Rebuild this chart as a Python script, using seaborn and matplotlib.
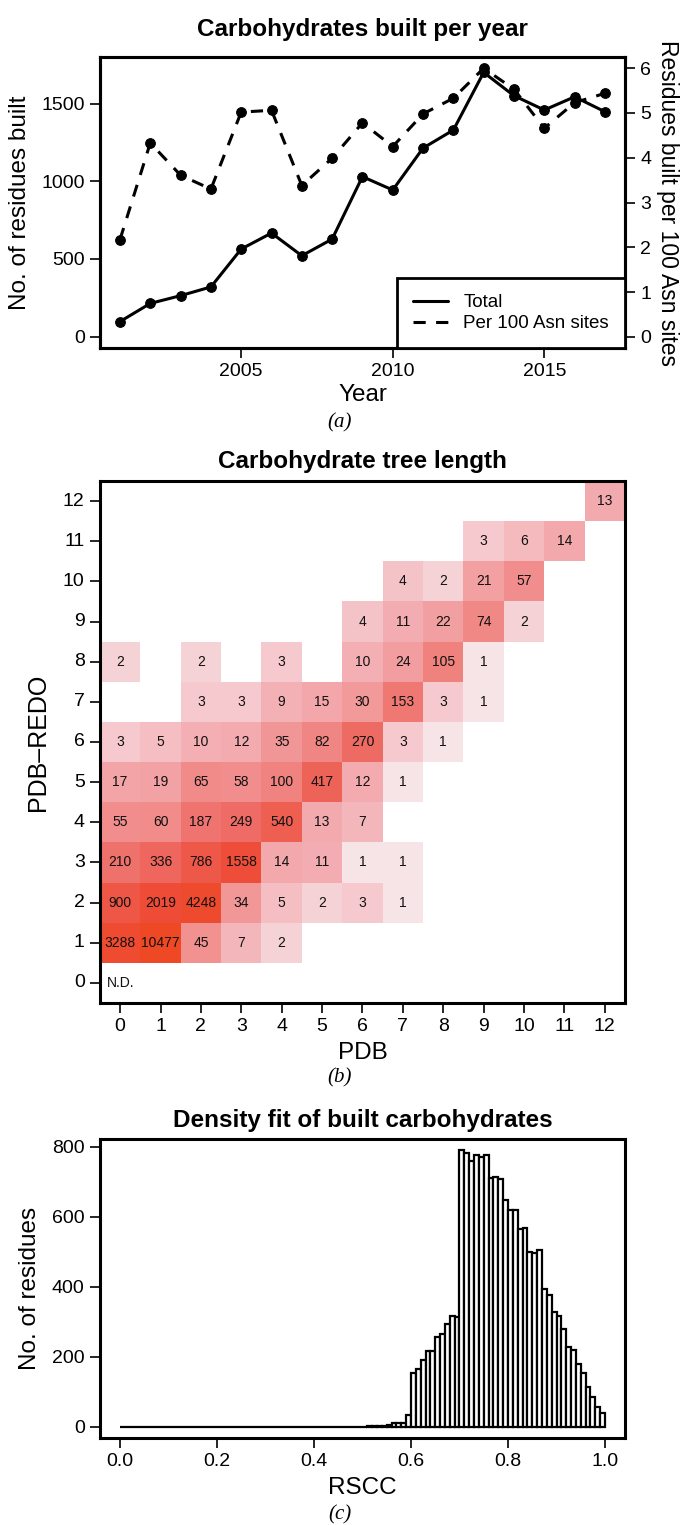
import numpy as np
import pandas as pd
import seaborn as sns
from matplotlib import pyplot as plt
from matplotlib.colors import LinearSegmentedColormap, LogNorm
from matplotlib.lines import Line2D

# (a) carbohydrates built per year
years = list(range(2001, 2018))
total_built = [97, 214, 264, 320, 564, 667, 521, 628, 1030, 944,
               1214, 1330, 1701, 1551, 1459, 1544, 1448]
per_100_asn = [2.17, 4.33, 3.61, 3.30, 5.02, 5.06, 3.38, 3.99, 4.78, 4.25,
               4.98, 5.33, 6.00, 5.53, 4.66, 5.23, 5.44]

# (b) tree length, PDB vs PDB-REDO (sparse cells)
pdb = [12,
       9, 10, 11,
       7, 8, 9, 10,
       6, 7, 8, 9, 10,
       0, 2, 4, 6, 7, 8, 9,
       2, 3, 4, 5, 6, 7, 8, 9,
       0, 1, 2, 3, 4, 5, 6, 7, 8,
       0, 1, 2, 3, 4, 5, 6, 7,
       0, 1, 2, 3, 4, 5, 6,
       0, 1, 2, 3, 4, 5, 6, 7,
       0, 1, 2, 3, 4, 5, 6, 7,
       0, 1, 2, 3, 4]
pdb_redo = [12,
            11, 11, 11,
            10, 10, 10, 10,
            9, 9, 9, 9, 9,
            8, 8, 8, 8, 8, 8, 8,
            7, 7, 7, 7, 7, 7, 7, 7,
            6, 6, 6, 6, 6, 6, 6, 6, 6,
            5, 5, 5, 5, 5, 5, 5, 5,
            4, 4, 4, 4, 4, 4, 4,
            3, 3, 3, 3, 3, 3, 3, 3,
            2, 2, 2, 2, 2, 2, 2, 2,
            1, 1, 1, 1, 1]
tree_counts = [13,
               3, 6, 14,
               4, 2, 21, 57,
               4, 11, 22, 74, 2,
               2, 2, 3, 10, 24, 105, 1,
               3, 3, 9, 15, 30, 153, 3, 1,
               3, 5, 10, 12, 35, 82, 270, 3, 1,
               17, 19, 65, 58, 100, 417, 12, 1,
               55, 60, 187, 249, 540, 13, 7,
               210, 336, 786, 1558, 14, 11, 1, 1,
               900, 2019, 4248, 34, 5, 2, 3, 1,
               3288, 10477, 45, 7, 2]
tree_levels = list(range(13))

# (c) RSCC histogram, bins of 0.01 from 0.00 to 1.00
rscc_counts = [0] * 50 + [
    1, 2, 2, 3, 3, 5, 10, 11, 10, 33,
    155, 164, 190, 217, 217, 257, 265, 295, 317, 314,
    790, 782, 760, 778, 770, 778, 712, 714, 708, 648,
    620, 620, 565, 567, 500, 497, 505, 395, 378, 328,
    318, 280, 228, 220, 180, 155, 115, 85, 58, 40]
rscc_bin_start = np.round(np.arange(100) * 0.01, 2)

sns.set_theme(style="ticks")
plt.rcParams['font.family'] = ['Liberation Sans', 'DejaVu Sans']
plt.rcParams['axes.linewidth'] = 2.2
plt.rcParams['axes.edgecolor'] = 'black'
plt.rcParams['text.color'] = 'black'
plt.rcParams['axes.labelcolor'] = 'black'
plt.rcParams['axes.titlecolor'] = 'black'

fig = plt.figure(figsize=(6.8, 15.25), dpi=100)
tick_kw = dict(length=7, width=1.2, direction='out', labelsize=14,
               colors='black', pad=4)
LAB = 17.5
TTL = 17.5

# ---------- panel a ----------
ax1 = fig.add_axes([0.147, 0.7718, 0.772, 0.1908])
sns.lineplot(x=years, y=total_built, ax=ax1, color='black', lw=2.2,
             marker='o', markersize=7, markeredgecolor='black')
ax2 = ax1.twinx()
sns.lineplot(x=years, y=per_100_asn, ax=ax2, color='black', lw=2.2,
             marker='o', markersize=7, markeredgecolor='black')
ax2.lines[0].set_dashes((4, 3.4))
ax1.set_xlim(2000.34, 2017.66)
ax1.set_ylim(-73, 1800)
ax2.set_ylim(-0.25, 6.25)
ax1.set_xticks([2005, 2010, 2015])
ax1.set_yticks([0, 500, 1000, 1500])
ax2.set_yticks(range(7))
ax1.tick_params(**tick_kw)
ax2.tick_params(**tick_kw)
ax1.set_xlabel("Year", fontsize=LAB, labelpad=3)
ax1.set_ylabel("No. of residues built", fontsize=LAB, labelpad=7)
ax2.set_ylabel("Residues built per 100 Asn sites", fontsize=16.5,
               rotation=270, labelpad=20)
ax1.set_title("Carbohydrates built per year", fontsize=TTL,
              fontweight='bold', pad=15)
handles = [Line2D([], [], color='black', lw=2.2),
           Line2D([], [], color='black', lw=2.2, dashes=(4, 3.4))]
leg = ax2.legend(handles, ["Total", "Per 100 Asn sites"], loc='lower right',
                 fontsize=13.5, frameon=True, fancybox=False, borderaxespad=0,
                 handlelength=1.9, handletextpad=0.8, borderpad=0.85,
                 labelspacing=0.2)
leg.get_frame().set_edgecolor('black')
leg.get_frame().set_linewidth(2.0)
leg.get_frame().set_alpha(1)
for s in ax2.spines.values():
    s.set_linewidth(2.2)

# ---------- panel b ----------
cells = pd.DataFrame({'pdb': pdb, 'pdb_redo': pdb_redo, 'n': tree_counts})
grid = (cells.pivot(index='pdb_redo', columns='pdb', values='n')
        .reindex(index=tree_levels[::-1], columns=tree_levels))
annot = grid.map(lambda v: '' if pd.isna(v) else str(int(v)))
heat_cmap = LinearSegmentedColormap.from_list(
    'tree', [(0.0, '#F7E4E6'), (0.08, '#F5D1D4'), (0.25, '#F3AEB3'),
             (0.5, '#F0827F'), (0.62, '#EE675F'), (0.8, '#EE4D38'),
             (1.0, '#EE4824')])
axb = fig.add_axes([0.147, 0.3423, 0.772, 0.3423])
sns.heatmap(grid, ax=axb, cmap=heat_cmap, norm=LogNorm(1, 10477),
            annot=annot, fmt='', cbar=False, linewidths=0,
            annot_kws=dict(fontsize=10, color='#111111'))
axb.text(0.5, 12.5, "N.D.", ha='center', va='center', fontsize=10,
         color='#111111')
for s in axb.spines.values():
    s.set_visible(True)
    s.set_linewidth(2.2)
axb.tick_params(**tick_kw)
axb.set_yticklabels(tree_levels[::-1], rotation=0)
axb.set_xticklabels(tree_levels, rotation=0)
axb.set_xlabel("PDB", fontsize=LAB, labelpad=5)
axb.set_ylabel("PDB\u2013REDO", fontsize=18, labelpad=9)
axb.set_title("Carbohydrate tree length", fontsize=TTL, fontweight='bold',
              pad=9)

# ---------- panel c ----------
hist_df = pd.DataFrame({'rscc': rscc_bin_start + 0.005, 'n': rscc_counts})
axc = fig.add_axes([0.147, 0.057, 0.772, 0.196])
sns.histplot(data=hist_df, x='rscc', weights='n', binwidth=0.01,
             binrange=(0, 1), ax=axc, color='white', edgecolor='black',
             linewidth=1.6, alpha=1)
axc.set_xlim(-0.041, 1.041)
axc.set_ylim(-32, 822)
axc.set_xticks([0.0, 0.2, 0.4, 0.6, 0.8, 1.0])
axc.set_xticklabels(["0.0", "0.2", "0.4", "0.6", "0.8", "1.0"])
axc.set_yticks([0, 200, 400, 600, 800])
axc.tick_params(**tick_kw)
axc.set_xlabel("RSCC", fontsize=LAB, labelpad=5)
axc.set_ylabel("No. of residues", fontsize=LAB, labelpad=8)
axc.set_title("Density fit of built carbohydrates", fontsize=TTL,
              fontweight='bold', pad=9)

# sub-figure captions
for y, lab in [(0.7226, 'a'), (0.2931, 'b'), (0.0066, 'c')]:
    fig.text(0.5, y, f"({lab})", ha='center', va='center', fontsize=15,
             family=['Liberation Serif', 'DejaVu Serif'], style='italic')

fig.savefig("out.png", dpi=100, facecolor='white')
